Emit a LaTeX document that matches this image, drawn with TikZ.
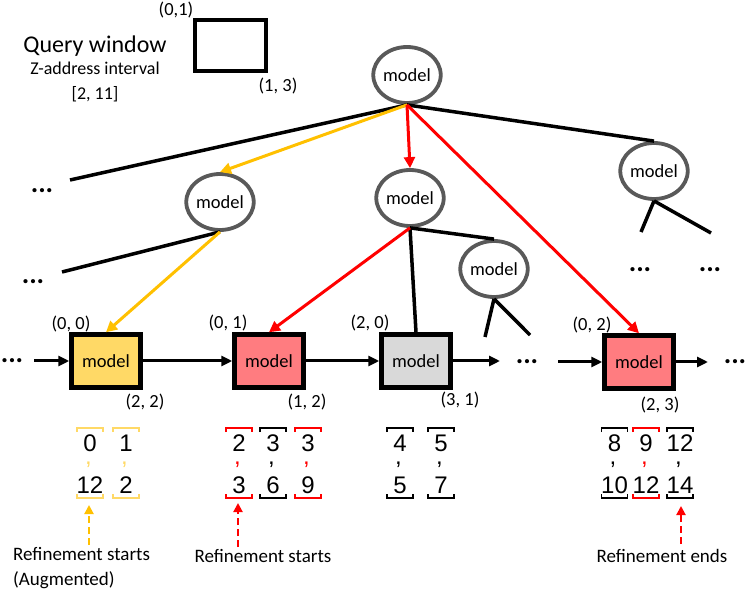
\documentclass[tikz,border=0pt]{standalone}
\usepackage{fontspec}
\setmainfont{Carlito}
\newfontfamily\numfont{Liberation Sans}
\usetikzlibrary{shapes.geometric,arrows.meta}

\definecolor{gold}{HTML}{FFC000}
\definecolor{goldfill}{HTML}{FFD966}
\definecolor{redfill}{HTML}{FF7C80}
\definecolor{greyfill}{HTML}{D9D9D9}
\definecolor{ringgrey}{HTML}{595959}

\tikzset{
  treenode/.style={ellipse, draw=ringgrey, line width=3.8pt, fill=white,
    minimum width=66pt, minimum height=56pt, inner sep=0pt,
    font=\fontsize{18.5}{20}\selectfont},
  leafbox/.style={rectangle, draw=black, line width=4.5pt, minimum width=69pt,
    minimum height=53pt, inner sep=0pt, font=\fontsize{18.5}{20}\selectfont},
  edge/.style={line width=3.5pt},
  hop/.style={line width=3pt, -{Triangle[length=11pt,width=11pt]}},
  chain/.style={line width=3pt, -{Triangle[length=11pt,width=10pt]}},
  hint/.style={line width=2pt, dash pattern=on 7pt off 4pt,
    -{Triangle[length=9pt,width=9pt]}},
  coord/.style={font=\fontsize{18.5}{20}\selectfont},
  dots/.style={font=\fontsize{28}{30}\selectfont\bfseries},
  note/.style={font=\fontsize{19}{25}\selectfont},
  num/.style={font=\fontsize{24}{26}\numfont, inner sep=0pt},
}

\begin{document}
\begin{tikzpicture}[x=1pt,y=-1pt]
    \useasboundingbox (0,0) rectangle (747,593);
    % Query window legend
    \node[font=\fontsize{24}{26}\selectfont] (qtitle) at (95,46) {Query window};
    \node[font=\fontsize{18}{20}\selectfont] (qsub) at (95,68) {Z-address interval};
    \node[font=\fontsize{18}{20}\selectfont] (qrange) at (95,94) {[2, 11]};
    \node[draw, line width=4.5pt, minimum width=71pt, minimum height=51pt,
      inner sep=0pt] (qwin) at (230.5,45.5) {};
    \node[coord] (qtl) at (176,10) {(0,1)};
    \node[coord] (qbr) at (278,86) {(1, 3)};
    % Learned index tree
    \node[treenode] (root) at (407,75) {model};
    \node[treenode] (leftm) at (220,202) {model};
    \node[treenode] (midm) at (410,198) {model};
    \node[treenode] (rightm) at (654,171) {model};
    \node[treenode] (lowm) at (494,269) {model};
    % Leaf models
    \node[leafbox, fill=goldfill] (b00) at (106,361) {model};
    \node[leafbox, fill=redfill] (b01) at (269,361) {model};
    \node[leafbox, fill=greyfill] (b20) at (416,361) {model};
    \node[leafbox, fill=redfill] (b02) at (639,362) {model};
    % Leaf corner labels
    \node[coord] (l00) at (71,324) {(0, 0)};
    \node[coord] (r00) at (145,402) {(2, 2)};
    \node[coord] (l01) at (228,323) {(0, 1)};
    \node[coord] (r01) at (307,402) {(1, 2)};
    \node[coord] (l20) at (370,323) {(2, 0)};
    \node[coord] (r20) at (460,400) {(3, 1)};
    \node[coord] (l02) at (592,325) {(0, 2)};
    \node[coord] (r02) at (660,405) {(2, 3)};
    % Loose branch ends
    \coordinate (a1) at (70,180);
    \coordinate (a2) at (62,272);
    \coordinate (a3) at (485,337);
    \coordinate (a4) at (530,335);
    \coordinate (a5) at (641,232);
    \coordinate (a6) at (711,233);
    \node[dots] (d1) at (42,191) {...};
    \node[dots] (d2) at (33,282) {...};
    \node[dots] (d3) at (640,270) {...};
    \node[dots] (d4) at (710,270) {...};
    % Tree edges
    \draw[edge] (root.south) -- (a1);
    \draw[edge] (root.south) -- (rightm.north);
    \draw[edge] (leftm.south) -- (a2);
    \draw[edge] (midm.south) -- (b20.north);
    \draw[edge] (midm.south) -- (lowm.north);
    \draw[edge] (lowm.south) -- (a3);
    \draw[edge] (lowm.south) -- (a4);
    \draw[edge] (rightm.south) -- (a5);
    \draw[edge] (rightm.south) -- (a6);
    % Search paths
    \draw[hop, gold] (root.south) -- (leftm.north);
    \draw[hop, gold] (leftm.south) -- (b00.north);
    \draw[hop, red] (root.south) -- (midm.north);
    \draw[hop, red] (root.south) -- (b02.north);
    \draw[hop, red] (midm.south) -- (b01.north);
    % Leaf chain
    \node[dots] (d5) at (12,361) {...};
    \node[dots] (d6) at (527,362) {...};
    \node[dots] (d7) at (735,362) {...};
    \coordinate (c0) at (34,361);
    \coordinate (c1) at (500,361);
    \coordinate (c2) at (558,362);
    \coordinate (c3) at (708,362);
    \draw[chain] (c0) -- (b00.west);
    \draw[chain] (b00.east) -- (b01.west);
    \draw[chain] (b01.east) -- (b20.west);
    \draw[chain] (b20.east) -- (c1);
    \draw[chain] (c2) -- (b02.west);
    \draw[chain] (b02.east) -- (c3);
    % Z-address pairs
    \foreach \x/\hi/\lo/\col [count=\k] in
      {90/0/12/goldfill, 126/1/2/goldfill,
       239/2/3/red, 273/3/6/black, 308/3/9/red,
       400/4/5/black, 441/5/7/black,
       614.5/8/10/black, 646/9/12/red, 680/12/14/black} {
      \draw[\col, line width=1.8pt] (\x-13,432) -- (\x-13,428) -- (\x+13,428) -- (\x+13,432);
      \draw[\col, line width=1.8pt] (\x-13,494) -- (\x-13,498) -- (\x+13,498) -- (\x+13,494);
      \node[num] (top\k) at (\x,443) {\hi};
      \node[num, text=\col, anchor=base] (cm\k) at (\x-1.5,464) {,};
      \node[num] (bot\k) at (\x,485) {\lo};
    }
    % Refinement markers
    \coordinate (s1) at (89,545);
    \coordinate (e1) at (89,505);
    \coordinate (s2) at (238,547);
    \coordinate (e2) at (238,503);
    \coordinate (s3) at (681,544);
    \coordinate (e3) at (681,506);
    \draw[hint, gold] (s1) -- (e1);
    \draw[hint, red] (s2) -- (e2);
    \draw[hint, red] (s3) -- (e3);
    \node[note, align=left, anchor=north west, inner sep=0pt] (n1) at (13,547)
      {Refinement starts\\(Augmented)};
    \node[note] (n2) at (263,556) {Refinement starts};
    \node[note] (n3) at (662,556) {Refinement ends};
\end{tikzpicture}
\end{document}
